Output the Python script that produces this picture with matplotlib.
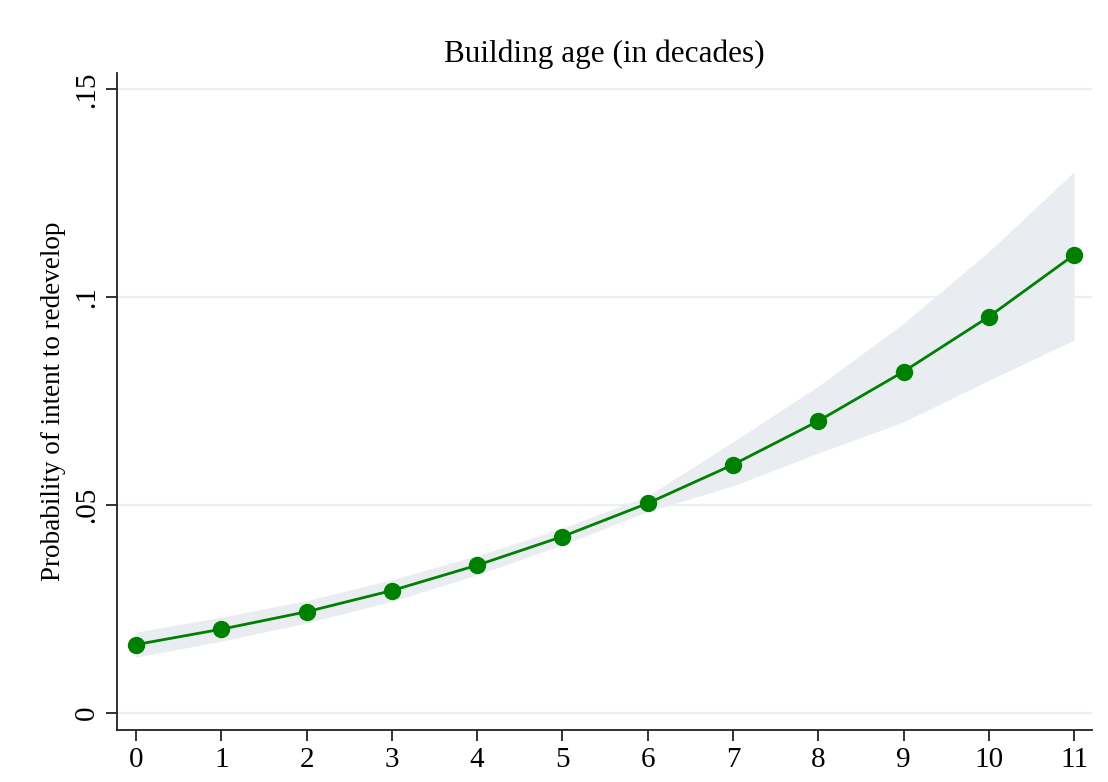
import matplotlib
matplotlib.use("Agg")
import matplotlib.pyplot as plt

age = [0, 1, 2, 3, 4, 5, 6, 7, 8, 9, 10, 11]
prob = [0.0164, 0.0201, 0.0243, 0.0294, 0.0355, 0.0424, 0.0504, 0.0597, 0.0702, 0.0821, 0.0953, 0.1102]
ci_low = [0.0134, 0.0172, 0.0216, 0.0268, 0.0332, 0.0404, 0.0484, 0.0546, 0.0625, 0.0700, 0.0800, 0.0897]
ci_high = [0.0194, 0.0230, 0.0270, 0.0320, 0.0378, 0.0444, 0.0522, 0.0652, 0.0786, 0.0937, 0.1110, 0.1302]
yticks = [0, 0.05, 0.10, 0.15]
ytick_labels = ["0", ".05", ".1", ".15"]

plt.rcParams['font.family'] = ['Liberation Serif', 'DejaVu Serif']

fig = plt.figure(figsize=(11.08, 7.82), dpi=100)
ax = fig.add_axes([117/1108, 1 - 730/782, (1092-117)/1108, (730-73)/782])

for y in yticks:
    ax.axhline(y, color='#eaf0f2', lw=1.6, zorder=0)

ax.fill_between(age, ci_low, ci_high, color='#e9edf1', lw=0, zorder=1)
ax.plot(age, prob, color='#008000', lw=2.0, marker='o', markersize=11.5, zorder=3)

ax.set_xlim(-0.223, 11.21)
ax.set_ylim(-0.00416, 0.15397)
ax.set_xticks(age)
ax.set_xticklabels([str(a) for a in age], fontsize=21)
ax.set_yticks(yticks)
ax.set_yticklabels(ytick_labels, fontsize=21, rotation=90, va='center')

ax.spines['top'].set_visible(False)
ax.spines['right'].set_visible(False)
for s in ['left', 'bottom']:
    ax.spines[s].set_linewidth(1.3)
    ax.spines[s].set_color('#222222')
ax.tick_params(axis='both', length=8, width=1.3, color='#222222', pad=4)

ax.set_title("Building age (in decades)", fontsize=22.5, pad=8)
ax.set_ylabel("Probability of intent to redevelop", fontsize=19.5, labelpad=6)

fig.savefig("out.png", dpi=100, facecolor='white')
